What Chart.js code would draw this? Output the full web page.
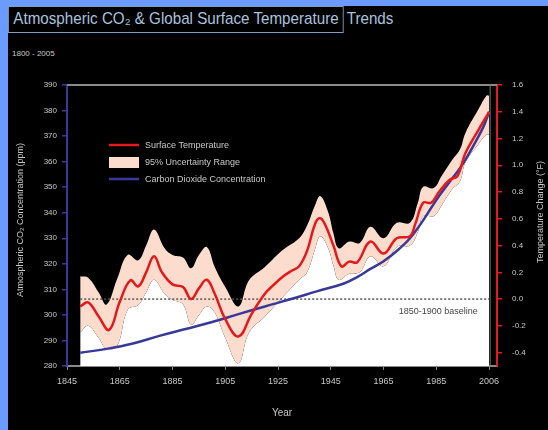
<!DOCTYPE html>
<html>
<head>
<meta charset="utf-8">
<script src="https://cdn.jsdelivr.net/npm/chart.js@4.4.1/dist/chart.umd.min.js"></script>
<style>
  html, body { margin: 0; padding: 0; }
  body { width: 548px; height: 430px; background: #6b9bff; position: relative; overflow: hidden; font-family: "Liberation Sans", Arial, sans-serif; }
  #panel { position: absolute; left: 8px; top: 6px; right: 0; bottom: 0; background: #000; }
  #chart { position: absolute; left: 0; top: 0; }
  #title { position: absolute; left: 8px; top: 6px; white-space: nowrap; color: #a9c3df; font-size: 17px; transform-origin: 0 0; }
  #boxed { display: inline-block; border: 1px solid #7f9fc0; padding: 2px 5px 3px 5px; }
  #rest { display: inline-block; padding-left: 3px; }
  #sub { position: absolute; left: 12px; top: 49px; color: #c8c8c8; font-size: 8px; }
</style>
</head>
<body>
<div id="panel"></div>
<div id="title"><span id="boxed">Atmospheric CO₂ &amp; Global Surface Temperature</span><span id="rest">Trends</span></div>
<div id="sub">1800 - 2005</div>
<canvas id="chart" width="548" height="430"></canvas>
<script>
// temperature anomaly (right axis)
const tempYears = [1850, 1853, 1857, 1861, 1865, 1869, 1872, 1875, 1878, 1881, 1885, 1889, 1892, 1895, 1898, 1901, 1905, 1910, 1915, 1920, 1923, 1927, 1930, 1933, 1936, 1939, 1941, 1943, 1946, 1949, 1952, 1955, 1960, 1965, 1970, 1975, 1977, 1980, 1983, 1986, 1990, 1993, 1996, 2001, 2005];
const tempValues = [-0.055, -0.025, -0.13, -0.23, -0.02, 0.14, 0.095, 0.2, 0.32, 0.2, 0.11, 0.09, 0.0, 0.08, 0.145, 0.04, -0.15, -0.28, -0.11, 0.04, 0.1, 0.17, 0.21, 0.245, 0.36, 0.56, 0.605, 0.55, 0.4, 0.245, 0.28, 0.275, 0.43, 0.34, 0.455, 0.47, 0.56, 0.72, 0.72, 0.8, 0.89, 0.92, 1.09, 1.265, 1.4];

// 95% uncertainty range
const bandYears = [1850, 1853, 1857, 1860, 1864, 1868, 1872, 1875, 1878, 1882, 1885, 1889, 1892, 1895, 1898, 1901, 1905, 1910, 1914, 1920, 1927, 1933, 1936, 1939, 1941, 1944, 1946, 1948, 1952, 1956, 1960, 1965, 1970, 1975, 1978, 1980, 1984, 1987, 1991, 1994, 1996, 2001, 2004, 2005];
const bandUpper = [0.17, 0.16, 0.05, -0.04, 0.15, 0.33, 0.29, 0.4, 0.52, 0.38, 0.33, 0.31, 0.23, 0.33, 0.39, 0.24, 0.09, -0.055, 0.14, 0.24, 0.37, 0.455, 0.55, 0.7, 0.77, 0.65, 0.49, 0.38, 0.43, 0.42, 0.54, 0.455, 0.57, 0.57, 0.72, 0.84, 0.83, 0.92, 1.04, 1.12, 1.24, 1.42, 1.52, 1.52];
const bandLower = [-0.25, -0.2, -0.29, -0.37, -0.35, -0.08, -0.045, 0.05, 0.145, 0.04, -0.005, -0.04, -0.19, -0.12, -0.055, -0.1, -0.29, -0.48, -0.25, -0.13, 0.02, 0.145, 0.2, 0.37, 0.47, 0.38, 0.25, 0.145, 0.19, 0.2, 0.32, 0.245, 0.39, 0.4, 0.5, 0.62, 0.62, 0.7, 0.82, 0.88, 1.02, 1.16, 1.23, 1.23];

// CO2 concentration (left axis)
const co2Years = [1850, 1860, 1870, 1880, 1890, 1900, 1910, 1920, 1930, 1940, 1950, 1955, 1960, 1965, 1970, 1975, 1980, 1985, 1990, 1995, 2000, 2003, 2005];
const co2Values = [285.2, 286.7, 288.8, 291.8, 294.5, 297.2, 300.3, 303.3, 306.2, 309.3, 312.3, 314.8, 318, 321, 325, 330, 337, 345, 352, 359, 368, 374, 379.5];

const baselineYears = [1850, 2005];
const baselineValues = [0, 0];

const xTickValues = [1845, 1865, 1885, 1905, 1925, 1945, 1965, 1985, 2005];
const xTickLabels = ["1845", "1865", "1885", "1905", "1925", "1945", "1965", "1985", "2006"];
const tempTicks = [-0.4, -0.2, 0, 0.2, 0.4, 0.6, 0.8, 1.0, 1.2, 1.4, 1.6];

const legendItems = ["Surface Temperature", "95% Uncertainty Range", "Carbon Dioxide Concentration"];

const pts = (xs, ys) => xs.map((x, i) => ({ x: x, y: ys[i] }));

// squeeze the title to the width of the original
const boxed = document.getElementById("boxed");
const titleEl = document.getElementById("title");
titleEl.style.transform = "scaleX(" + (336 / boxed.getBoundingClientRect().width) + ")";

const RED = "#e3191c";
const BLUE = "#39399a";
const PINK = "#fcdccd";
const TXT = "#c8c8c8";

const extras = {
  id: "extras",
  afterDraw(chart) {
    const { ctx, chartArea: a, scales } = chart;
    ctx.save();
    // top frame line
    ctx.strokeStyle = "#8a8a8a";
    ctx.lineWidth = 2;
    ctx.beginPath();
    ctx.moveTo(a.left, a.top);
    ctx.lineTo(a.right, a.top);
    ctx.stroke();
    // right frame of plot
    const xr = scales.x.getPixelForValue(2005.4);
    ctx.lineWidth = 1;
    ctx.strokeStyle = "#777";
    ctx.beginPath();
    ctx.moveTo(xr, a.top);
    ctx.lineTo(xr, a.bottom);
    ctx.stroke();

    // legend
    const lx = a.left + 42, ly = a.top + 60;
    ctx.font = "9px 'Liberation Sans', Arial, sans-serif";
    ctx.textBaseline = "middle";
    ctx.fillStyle = TXT;
    ctx.lineWidth = 2.5;
    ctx.strokeStyle = RED;
    ctx.beginPath(); ctx.moveTo(lx, ly); ctx.lineTo(lx + 30, ly); ctx.stroke();
    ctx.fillText(legendItems[0], lx + 36, ly + 1);
    ctx.fillStyle = PINK;
    ctx.fillRect(lx, ly + 12, 30, 11);
    ctx.fillStyle = TXT;
    ctx.fillText(legendItems[1], lx + 36, ly + 18);
    ctx.strokeStyle = BLUE;
    ctx.beginPath(); ctx.moveTo(lx, ly + 34); ctx.lineTo(lx + 30, ly + 34); ctx.stroke();
    ctx.fillText(legendItems[2], lx + 36, ly + 35);

    // baseline label
    ctx.fillStyle = "#444";
    ctx.textAlign = "center";
    ctx.fillText("1850-1900 baseline", scales.x.getPixelForValue(1985.7), scales.y2.getPixelForValue(0) + 12);

    // rotated axis titles
    ctx.fillStyle = TXT;
    ctx.font = "9px 'Liberation Sans', Arial, sans-serif";
    ctx.translate(21, 220);
    ctx.rotate(-Math.PI / 2);
    ctx.fillText("Atmospheric CO₂ Concentration (ppm)", 0, 0);
    ctx.setTransform(chart.currentDevicePixelRatio, 0, 0, chart.currentDevicePixelRatio, 0, 0);
    ctx.translate(541, 212);
    ctx.rotate(-Math.PI / 2);
    ctx.fillText("Temperature Change (°F)", 0, 0);
    ctx.restore();
  }
};

new Chart(document.getElementById("chart").getContext("2d"), {
  type: "line",
  data: {
    datasets: [
      { label: "lower", data: pts(bandYears, bandLower), yAxisID: "y2", borderWidth: 0, pointRadius: 0, tension: 0.4, fill: "start", backgroundColor: "#ffffff", order: 4 },
      { label: "95% Uncertainty Range", data: pts(bandYears, bandUpper), yAxisID: "y2", borderWidth: 0, pointRadius: 0, tension: 0.4, fill: 0, backgroundColor: PINK, order: 3 },
      { label: "baseline", data: pts(baselineYears, baselineValues), yAxisID: "y2", borderColor: "#555", borderWidth: 1.5, borderDash: [2, 2], pointRadius: 0, fill: false, order: 2 },
      { label: "Carbon Dioxide Concentration", data: pts(co2Years, co2Values), yAxisID: "y", borderColor: BLUE, borderWidth: 2.5, pointRadius: 0, tension: 0.4, fill: false, order: 1 },
      { label: "Surface Temperature", data: pts(tempYears, tempValues), yAxisID: "y2", borderColor: RED, borderWidth: 2.5, pointRadius: 0, tension: 0.4, fill: false, order: 0 }
    ]
  },
  options: {
    responsive: false,
    animation: false,
    layout: { padding: { top: 85, left: 0, right: 0, bottom: 0 } },
    plugins: { legend: { display: false }, tooltip: { enabled: false } },
    scales: {
      x: {
        type: "linear",
        min: 1845,
        max: 2008,
        afterFit: (s) => { s.height = 64; },
        afterBuildTicks: (s) => { s.ticks = xTickValues.map((v) => ({ value: v })); },
        ticks: {
          color: TXT,
          font: { size: 9, family: "'Liberation Sans', Arial, sans-serif" },
          padding: 6,
          maxRotation: 0,
          callback: (v, i) => xTickLabels[i]
        },
        grid: { drawOnChartArea: false, drawTicks: true, tickLength: 4, color: "#8a8a8a" },
        border: { color: "#8a8a8a", width: 2 },
        title: { display: true, text: "Year", color: TXT, font: { size: 10, family: "'Liberation Sans', Arial, sans-serif" }, padding: { top: 0, bottom: 11 } }
      },
      y: {
        position: "left",
        min: 280,
        max: 390,
        afterFit: (s) => { s.width = 67; },
        ticks: { stepSize: 10, color: TXT, font: { size: 8, family: "'Liberation Sans', Arial, sans-serif" }, padding: 5 },
        grid: { drawOnChartArea: false, drawTicks: true, tickLength: 5, color: BLUE, lineWidth: 1.5 },
        border: { color: BLUE, width: 2 }
      },
      y2: {
        position: "right",
        min: -0.5,
        max: 1.6,
        afterFit: (s) => { s.width = 51; },
        afterBuildTicks: (s) => { s.ticks = tempTicks.map((v) => ({ value: v })); },
        ticks: { color: TXT, font: { size: 8, family: "'Liberation Sans', Arial, sans-serif" }, padding: 10, callback: (v) => v.toFixed(1) },
        grid: { drawOnChartArea: false, drawTicks: true, tickLength: 5, color: RED, lineWidth: 1.5 },
        border: { color: RED, width: 2 }
      }
    }
  },
  plugins: [extras]
});
</script>
</body>
</html>
